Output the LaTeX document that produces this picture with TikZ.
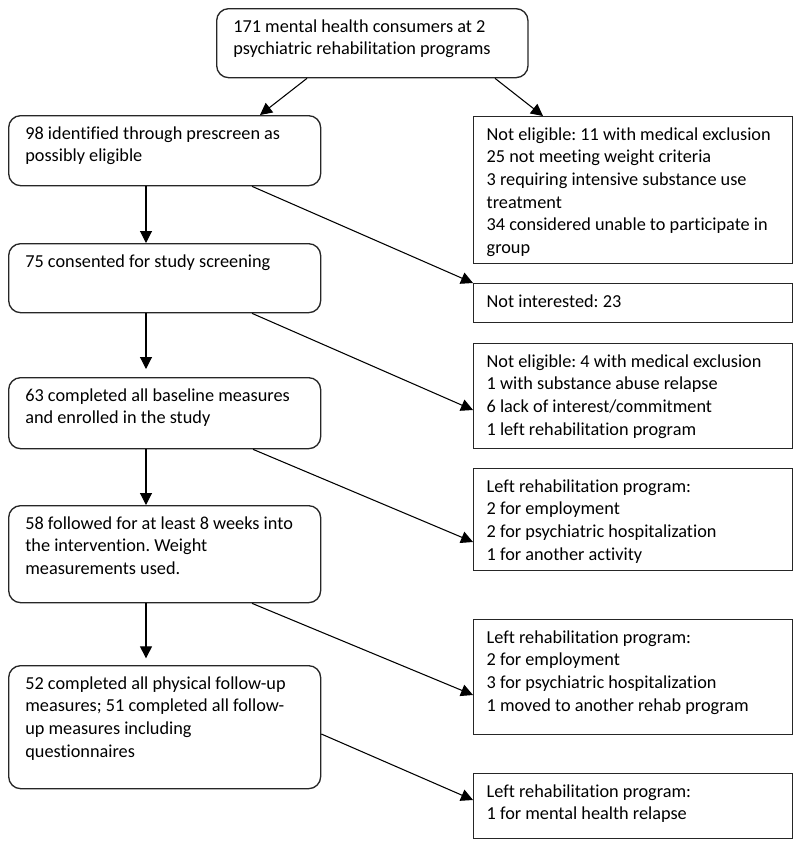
\documentclass[tikz,border=0pt]{standalone}
\usepackage{fontspec}
\setmainfont{Carlito}[Ligatures=CommonOff]
\usetikzlibrary{calc,arrows.meta}
\frenchspacing
\def\boxtext(#1,#2)#3{\parbox[t][#2][t]{#1}{\raggedright\strut #3}}

\begin{document}
\begin{tikzpicture}[x=0.75pt,y=-0.75pt,
		flowbox/.style={draw=black!85, line width=1pt, rounded corners=9pt, anchor=north west,
			inner xsep=12.5pt, inner ysep=6pt, font=\fontsize{13.7}{16.9}\selectfont},
		notebox/.style={flowbox, sharp corners, inner xsep=9.75pt},
		flowarrow/.style={line width=0.8pt, -{Triangle[length=9pt,width=9pt]}}]
			%%%%% START %%%%%
			\useasboundingbox (0,0) rectangle (800,847);
			
			\node[flowbox] (consumers) at (216,8) {\boxtext(208.5pt,39.75pt){171 mental health consumers at 2\\psychiatric rehabilitation programs}};
			
			\node[flowbox] (prescreen) at (8,115) {\boxtext(209pt,40.5pt){98 identified through prescreen as\\possibly eligible}};
			\node[flowbox] (consented) at (8,243) {\boxtext(209pt,39.75pt){75 consented for study screening}};
			\node[flowbox] (baseline) at (8,377) {\boxtext(209pt,41.25pt){63 completed all baseline measures\\and enrolled in the study}};
			\node[flowbox] (followed) at (8,505) {\boxtext(209pt,60.75pt){58 followed for at least 8 weeks into\\the intervention. Weight\\measurements used.}};
			\node[flowbox] (completed) at (8,665) {\boxtext(209pt,80.25pt){52 completed all physical follow-up\\measures; 51 completed all follow-\\up measures including\\questionnaires}};
			
			\node[notebox] (noteligA) at (473,116) {\boxtext(219.75pt,98.25pt){Not eligible: 11 with medical exclusion\\25 not meeting weight criteria\\3 requiring intensive substance use\\treatment\\34 considered unable to participate in\\group}};
			\node[notebox] (notint) at (473,283) {\boxtext(219.75pt,17.25pt){Not interested: 23}};
			\node[notebox] (noteligB) at (473,343) {\boxtext(219.75pt,66.75pt){Not eligible: 4 with medical exclusion\\1 with substance abuse relapse\\6 lack of interest/commitment\\1 left rehabilitation program}};
			\node[notebox] (leftA) at (473,468) {\boxtext(219.75pt,64.5pt){Left rehabilitation program:\\2 for employment\\2 for psychiatric hospitalization\\1 for another activity}};
			\node[notebox] (leftB) at (473,619) {\boxtext(219.75pt,74.25pt){Left rehabilitation program:\\2 for employment\\3 for psychiatric hospitalization\\1 moved to another rehab program}};
			\node[notebox] (leftC) at (473,773) {\boxtext(219.75pt,36.75pt){Left rehabilitation program:\\1 for mental health relapse}};
			
			\draw[flowarrow] ($(consumers.south west)+(91,0)$) -- ($(prescreen.north west)+(252,0)$);
			\draw[flowarrow] ($(consumers.south west)+(279,0)$) -- ($(noteligA.north west)+(70,0)$);
			
			\draw[flowarrow] ($(prescreen.south west)+(138,0)$) -- ($(consented.north west)+(138,0)$);
			\draw[flowarrow, shorten >=6pt] ($(consented.south west)+(138,0)$) -- ($(baseline.north west)+(138,0)$);
			\draw[flowarrow] ($(baseline.south west)+(138,0)$) -- ($(followed.north west)+(138,0)$);
			\draw[flowarrow, shorten >=5pt] ($(followed.south west)+(138,0)$) -- ($(completed.north west)+(138,0)$);
			
			\draw[flowarrow] ($(prescreen.south west)+(244,0)$) -- (notint.north west);
			\draw[flowarrow] ($(consented.south west)+(244,0)$) -- ($(noteligB.north west)+(0,67)$);
			\draw[flowarrow] ($(baseline.south west)+(245,0)$) -- ($(leftA.north west)+(0,74)$);
			\draw[flowarrow] ($(followed.south west)+(244,0)$) -- ($(leftB.north west)+(0,76)$);
			\draw[flowarrow] ($(completed.north east)+(0,69)$) -- ($(leftC.north west)+(0,27)$);
			
			%%%%% END %%%%%
		\end{tikzpicture}
\end{document}
